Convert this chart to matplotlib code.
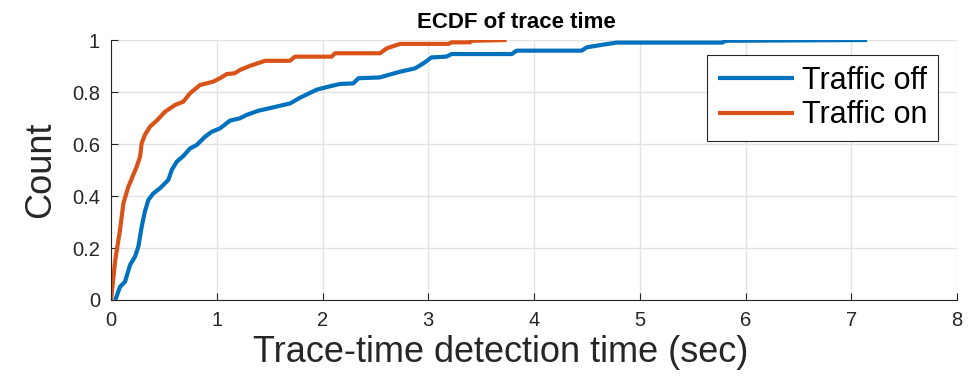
import numpy as np
import matplotlib
matplotlib.use("Agg")
import matplotlib.pyplot as plt

plt.rcParams['font.family'] = ['Liberation Sans', 'DejaVu Sans']

# ECDF curves (x = seconds, y = fraction)
off_x = [0.04, 0.085, 0.132, 0.18, 0.227, 0.258, 0.29, 0.32, 0.353, 0.40, 0.463,
         0.542, 0.574, 0.621, 0.684, 0.747, 0.81, 0.889, 0.952, 1.03, 1.125, 1.22,
         1.283, 1.393, 1.535, 1.693, 1.787, 1.945, 2.07, 2.165, 2.29, 2.34, 2.54,
         2.733, 2.875, 2.953, 3.03, 3.17, 3.22, 3.79, 3.835, 4.45, 4.50, 4.62,
         4.78, 5.78, 5.81, 7.15]
off_y = [0.0, 0.051, 0.07, 0.135, 0.167, 0.205, 0.282, 0.34, 0.385, 0.41, 0.43,
         0.462, 0.50, 0.532, 0.554, 0.583, 0.596, 0.628, 0.647, 0.66, 0.69, 0.699,
         0.712, 0.728, 0.741, 0.756, 0.778, 0.809, 0.822, 0.831, 0.833, 0.853, 0.856,
         0.878, 0.891, 0.91, 0.933, 0.936, 0.946, 0.946, 0.959, 0.959, 0.972, 0.98,
         0.99, 0.99, 0.997, 1.0]

on_x = [0.0, 0.04, 0.085, 0.117, 0.164, 0.243, 0.274, 0.29, 0.32, 0.369, 0.432,
        0.51, 0.605, 0.684, 0.747, 0.842, 0.967, 1.03, 1.094, 1.17, 1.22, 1.31,
        1.456, 1.69, 1.74, 2.087, 2.118, 2.544, 2.607, 2.733, 3.19, 3.22, 3.395,
        3.41, 3.74]
on_y = [0.0, 0.154, 0.27, 0.372, 0.436, 0.513, 0.551, 0.603, 0.635, 0.667, 0.69,
        0.724, 0.75, 0.763, 0.795, 0.827, 0.84, 0.853, 0.869, 0.872, 0.885, 0.90,
        0.92, 0.92, 0.936, 0.936, 0.949, 0.949, 0.968, 0.985, 0.985, 0.991, 0.991,
        0.997, 1.0]

x_ticks = [0, 1, 2, 3, 4, 5, 6, 7, 8]
y_ticks = [0, 0.2, 0.4, 0.6, 0.8, 1]
y_labels = ['0', '0.2', '0.4', '0.6', '0.8', '1']

fig = plt.figure(figsize=(9.74, 3.81), dpi=100)
ax = fig.add_axes([0.114, 0.2126, 0.8686, 0.6824])

ax.plot(off_x, off_y, color='#0072BD', lw=3, label='Traffic off', solid_capstyle='butt')
ax.plot(on_x, on_y, color='#D95319', lw=3, label='Traffic on', solid_capstyle='butt')

ax.set_xlim(0, 8)
ax.set_ylim(0, 1)
ax.set_xticks(x_ticks)
ax.set_yticks(y_ticks)
ax.set_yticklabels(y_labels)
ax.grid(True, color='#e3e3e3', lw=1)
ax.set_axisbelow(True)
ax.tick_params(direction='in', length=5, width=0.8, colors='#262626', labelsize=14.5, pad=8)
ax.spines['top'].set_visible(False)
ax.spines['right'].set_visible(False)
for s in ['left', 'bottom']:
    ax.spines[s].set_color('#262626')
    ax.spines[s].set_linewidth(0.8)

ax.set_xlabel('Trace-time detection time (sec)', fontsize=26, color='#262626', labelpad=2)
ax.xaxis.set_label_coords(0.461, -0.135)
ax.set_ylabel('Count', fontsize=26, color='#262626', labelpad=10)
ttl = ax.set_title('ECDF of trace time', fontsize=16, fontweight='bold', pad=9)
ttl.set_x(0.479)

leg = ax.legend(loc='upper right', bbox_to_anchor=(0.9775, 0.942), borderaxespad=0,
                fontsize=22, fancybox=False, framealpha=1, edgecolor='#262626',
                handlelength=2.5, borderpad=0.35, labelspacing=0.15, handletextpad=0.25)
leg.get_frame().set_linewidth(0.8)

fig.savefig('out.png', dpi=100)
